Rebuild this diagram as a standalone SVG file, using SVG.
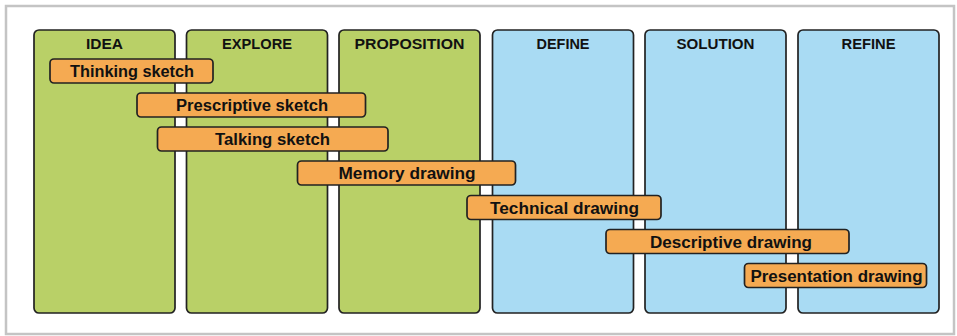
<svg xmlns="http://www.w3.org/2000/svg" width="957" height="336" viewBox="0 0 957 336">
<style>
.frame{fill:#fff;stroke:#c4c4c4;stroke-width:2.5}
.col{stroke:#222;stroke-width:1.7}
.g{fill:#b9d067}
.b{fill:#a9dbf3}
.bar{fill:#f5aa52;stroke:#222;stroke-width:1.7}
.h{font-family:"Liberation Sans",Arial,sans-serif;font-weight:bold;font-size:14.5px;fill:#111;text-anchor:middle}
.t{font-family:"Liberation Sans",Arial,sans-serif;font-weight:bold;font-size:16px;fill:#111;text-anchor:middle}
</style>
<rect class="frame" x="6" y="6" width="948" height="328"/>
<g id="col-idea"><rect class="col g" x="34" y="30" width="141" height="283" rx="5"/><text class="h" x="104.5" y="49.3" textLength="37" lengthAdjust="spacingAndGlyphs">IDEA</text></g>
<g id="col-explore"><rect class="col g" x="186.5" y="30" width="141" height="283" rx="5"/><text class="h" x="257" y="49.3" textLength="70" lengthAdjust="spacingAndGlyphs">EXPLORE</text></g>
<g id="col-proposition"><rect class="col g" x="339" y="30" width="141" height="283" rx="5"/><text class="h" x="409.5" y="49.3" textLength="110" lengthAdjust="spacingAndGlyphs">PROPOSITION</text></g>
<g id="col-define"><rect class="col b" x="492.5" y="30" width="141" height="283" rx="5"/><text class="h" x="563" y="49.3" textLength="53" lengthAdjust="spacingAndGlyphs">DEFINE</text></g>
<g id="col-solution"><rect class="col b" x="645" y="30" width="141" height="283" rx="5"/><text class="h" x="715.5" y="49.3" textLength="78" lengthAdjust="spacingAndGlyphs">SOLUTION</text></g>
<g id="col-refine"><rect class="col b" x="798" y="30" width="141" height="283" rx="5"/><text class="h" x="868.5" y="49.3" textLength="54" lengthAdjust="spacingAndGlyphs">REFINE</text></g>
<g id="bar-thinking"><rect class="bar" x="50" y="59" width="163" height="24" rx="4"/><text class="t" x="132" y="77" textLength="124" lengthAdjust="spacingAndGlyphs">Thinking sketch</text></g>
<g id="bar-prescriptive"><rect class="bar" x="137" y="93" width="228.5" height="24" rx="4"/><text class="t" x="252" y="111" textLength="152" lengthAdjust="spacingAndGlyphs">Prescriptive sketch</text></g>
<g id="bar-talking"><rect class="bar" x="157.5" y="127" width="230.5" height="24" rx="4"/><text class="t" x="272.5" y="145" textLength="115" lengthAdjust="spacingAndGlyphs">Talking sketch</text></g>
<g id="bar-memory"><rect class="bar" x="297.5" y="161" width="218" height="24" rx="4"/><text class="t" x="407" y="179" textLength="137" lengthAdjust="spacingAndGlyphs">Memory drawing</text></g>
<g id="bar-technical"><rect class="bar" x="467" y="195.5" width="194" height="24" rx="4"/><text class="t" x="564.5" y="213.5" textLength="149" lengthAdjust="spacingAndGlyphs">Technical drawing</text></g>
<g id="bar-descriptive"><rect class="bar" x="606" y="229.5" width="243" height="24" rx="4"/><text class="t" x="731" y="247.5" textLength="162" lengthAdjust="spacingAndGlyphs">Descriptive drawing</text></g>
<g id="bar-presentation"><rect class="bar" x="744.5" y="263.5" width="182" height="24" rx="4"/><text class="t" x="836.5" y="281.5" textLength="172" lengthAdjust="spacingAndGlyphs">Presentation drawing</text></g>
<g id="connectors"/>
</svg>
